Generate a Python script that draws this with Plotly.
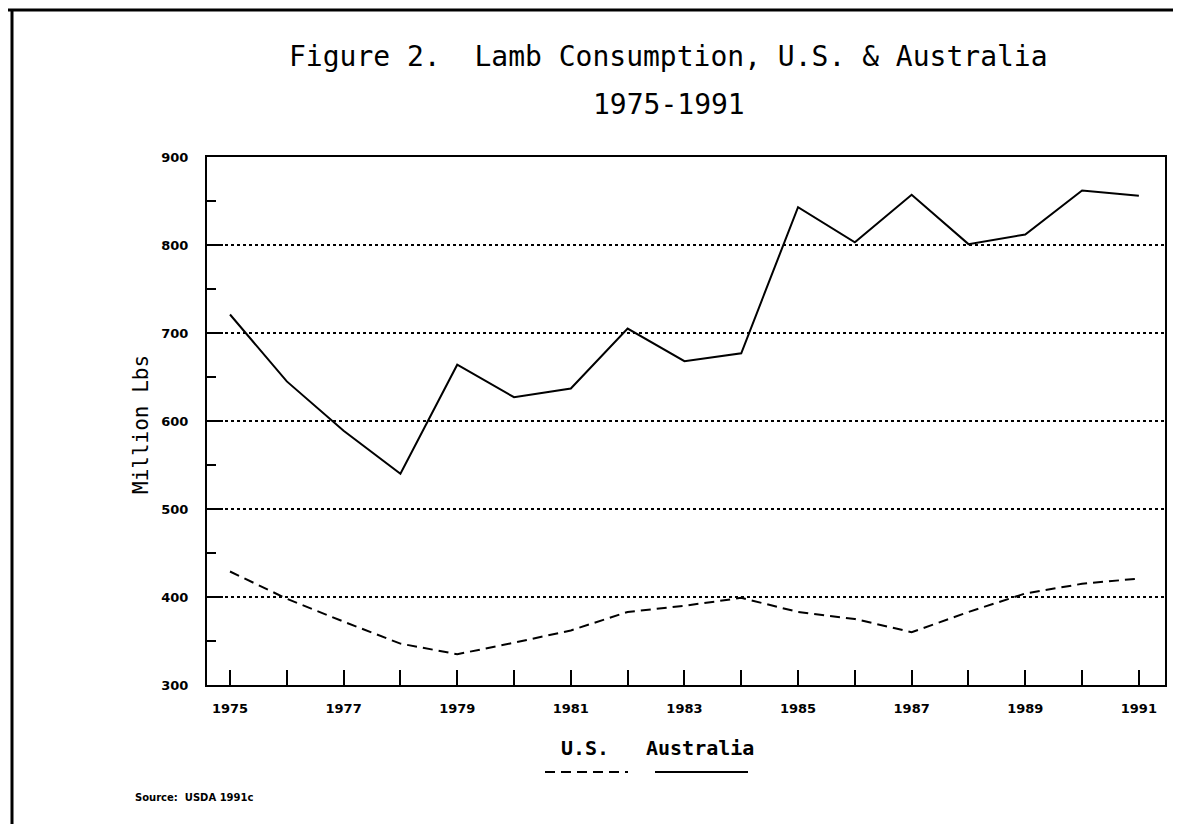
import plotly.graph_objects as go

years = list(range(1975, 1992))
australia = [721, 645, 589, 540, 664, 627, 637, 705, 668, 677, 843, 803, 857, 801, 812, 862, 856]
us = [429, 398, 372, 347, 335, 348, 362, 383, 390, 399, 383, 375, 360, 383, 404, 415, 421]
x_labels = [1975, 1977, 1979, 1981, 1983, 1985, 1987, 1989, 1991]
y_labels = [300, 400, 500, 600, 700, 800, 900]

OFF = 8  # page body margin
W, H = 1181 - OFF, 824 - OFF
# plot area in screen pixels
SL, SR, ST, SB = 207, 1165, 157, 685
L, T = SL - OFF, ST - OFF
R, B = W - (SR - OFF), H - (SB - OFF)
pw, ph = W - L - R, H - T - B

def px(X):
    return (X - SL) / pw

def py(Y):
    return (SB - Y) / ph

fig = go.Figure()
fig.add_trace(go.Scatter(x=years, y=australia, mode="lines", name="Australia",
                         line=dict(color="black", width=2)))
fig.add_trace(go.Scatter(x=years, y=us, mode="lines", name="U.S.",
                         line=dict(color="black", width=2, dash="10px,6px")))

tickfont = dict(family="DejaVu Sans", size=13, color="black", weight="bold")
fig.update_layout(
    width=W, height=H,
    margin=dict(l=L, r=R, t=T, b=B),
    paper_bgcolor="white", plot_bgcolor="white",
    showlegend=False,
    xaxis=dict(range=[1974.595, 1991.46], tickvals=x_labels, ticktext=[str(v) for v in x_labels],
               ticks="inside", ticklen=15, tickwidth=2, tickcolor="black",
               minor=dict(dtick=1, ticks="inside", ticklen=15, tickwidth=2, tickcolor="black", showgrid=False),
               showline=True, linecolor="black", linewidth=2, mirror=True,
               showgrid=False, zeroline=False, tickfont=tickfont, ticklabelstandoff=10),
    yaxis=dict(range=[300, 900], tickvals=y_labels, ticktext=[str(v) for v in y_labels],
               ticks="inside", ticklen=16, tickwidth=2, tickcolor="black",
               minor=dict(dtick=50, ticks="inside", ticklen=9, tickwidth=2, tickcolor="black", showgrid=False),
               showline=True, linecolor="black", linewidth=2, mirror=True,
               showgrid=True, gridcolor="black", gridwidth=1.5, griddash="dot",
               zeroline=False, tickfont=tickfont, ticklabelstandoff=14),
)

mono = "DejaVu Sans Mono"
ann = [
    dict(text="Figure 2.  Lamb Consumption, U.S. & Australia", x=px(668), y=py(57),
         font=dict(family=mono, size=28, color="black")),
    dict(text="1975-1991", x=px(669), y=py(104), font=dict(family=mono, size=28, color="black")),
    dict(text="Million Lbs", x=px(141), y=py(425), textangle=-90,
         font=dict(family=mono, size=21, color="black")),
    dict(text="U.S.", x=px(585), y=py(748), font=dict(family=mono, size=20, color="black", weight="bold")),
    dict(text="Australia", x=px(700), y=py(748), font=dict(family=mono, size=20, color="black", weight="bold")),
    dict(text="Source:  USDA 1991c", x=px(133), y=py(797), xanchor="left",
         font=dict(family="DejaVu Sans", size=10, color="black", weight="bold")),
]
for a in ann:
    a.setdefault("xanchor", "center")
    fig.add_annotation(xref="paper", yref="paper", showarrow=False, yanchor="middle", **a)

shapes = [
    dict(type="line", x0=px(OFF), x1=px(1181), y0=py(10), y1=py(10), line=dict(color="black", width=3)),
    dict(type="line", x0=px(12), x1=px(12), y0=py(10), y1=py(824), line=dict(color="black", width=3)),
    dict(type="line", x0=px(545), x1=px(628), y0=py(772), y1=py(772), line=dict(color="black", width=2, dash="10px,6px")),
    dict(type="line", x0=px(655), x1=px(748), y0=py(772), y1=py(772), line=dict(color="black", width=2)),
]
for s in shapes:
    fig.add_shape(xref="paper", yref="paper", layer="above", **s)

fig.write_html("out.html")
